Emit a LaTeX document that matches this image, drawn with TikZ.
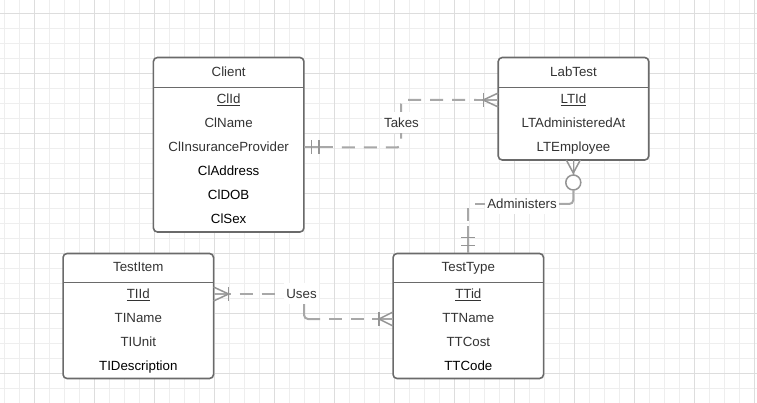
\documentclass[tikz,border=0pt]{standalone}
\usepackage{fontspec}
\setmainfont{Liberation Sans}
\definecolor{boxc}{HTML}{6A6A6A}
\definecolor{txtc}{HTML}{333333}
\definecolor{relc}{HTML}{A8A8A8}
\definecolor{markc}{HTML}{959595}
\definecolor{gridminor}{HTML}{EEEEEE}
\definecolor{gridmajor}{HTML}{DDDDDD}
\begin{document}
\begin{tikzpicture}[x=1pt,y=-1pt,
  entity/.style={draw=boxc, line width=1.6pt, rounded corners=4pt, fill=white, inner sep=0pt, outer sep=0pt, minimum width=150.5pt},
  hdr/.style={draw=boxc, line width=1.6pt},
  txt/.style={font=\fontsize{13.3}{16}\selectfont, text=txtc, inner sep=0pt, anchor=base},
  txtb/.style={txt, text=black},
  lbl/.style={font=\fontsize{13.3}{16}\selectfont, text=txtc, fill=white, inner xsep=2.5pt, inner ysep=5.5pt, text height=9.6pt, text depth=0pt},
  rel/.style={draw=relc, line width=2pt, dash pattern=on 13pt off 9pt, rounded corners=4pt},
  relsolid/.style={draw=relc, line width=2pt},
  mk/.style={draw=markc, line width=1.5pt},
  gminor/.style={draw=gridminor, line width=1pt},
  gmajor/.style={draw=gridmajor, line width=1pt}]
\useasboundingbox (0,0) rectangle (757,403);
% background grid
\begin{scope}
\clip (0,0) rectangle (757,403);
\fill[white] (0,0) rectangle (757,403);
\foreach \i in {0,...,50} \draw[gminor] ({4.3+15*\i},0) -- ++(0,403);
\foreach \j in {0,...,26} \draw[gminor] (0,{13.3+15*\j}) -- ++(757,0);
\foreach \i in {0,...,12} \draw[gmajor] ({34.3+60*\i},0) -- ++(0,403);
\foreach \j in {0,...,6} \draw[gmajor] (0,{13.3+60*\j}) -- ++(757,0);
\end{scope}

% entities
\node[entity, minimum height=174.5pt] (client) at (228.65,144.75) {};
\node[entity, minimum height=102.5pt] (labtest) at (573.5,108.75) {};
\node[entity, minimum height=125pt] (testitem) at (138.3,316) {};
\node[entity, minimum height=125pt] (testtype) at (468.3,316) {};

\draw[hdr] ([shift={(0,30)}]client.north west) -- ([shift={(0,30)}]client.north east);
\draw[hdr] ([shift={(0,30)}]labtest.north west) -- ([shift={(0,30)}]labtest.north east);
\draw[hdr] ([shift={(0,29)}]testitem.north west) -- ([shift={(0,29)}]testitem.north east);
\draw[hdr] ([shift={(0,29)}]testtype.north west) -- ([shift={(0,29)}]testtype.north east);

% Client texts
\node[txt] (cl-t) at (228.65,76.5) {Client};
\node[txt] (cl-1) at (228.65,103.3) {\underline{ClId}};
\node[txt] (cl-2) at (228.65,127.3) {ClName};
\node[txt] (cl-3) at (228.65,151.3) {ClInsuranceProvider};
\node[txtb] (cl-4) at (228.65,175.3) {ClAddress};
\node[txtb] (cl-5) at (228.65,199.3) {ClDOB};
\node[txtb] (cl-6) at (228.65,223.3) {ClSex};

% LabTest texts
\node[txt] (lt-t) at (573.5,76.5) {LabTest};
\node[txt] (lt-1) at (573.5,103.3) {\underline{LTId}};
\node[txt] (lt-2) at (573.5,127.3) {LTAdministeredAt};
\node[txt] (lt-3) at (573.5,151.3) {LTEmployee};

% TestItem texts
\node[txt] (ti-t) at (138.3,271.0) {TestItem};
\node[txt] (ti-1) at (138.3,298.3) {\underline{TIId}};
\node[txt] (ti-2) at (138.3,322.3) {TIName};
\node[txt] (ti-3) at (138.3,346.3) {TIUnit};
\node[txtb] (ti-4) at (138.3,370.3) {TIDescription};

% TestType texts
\node[txt] (tt-t) at (468.3,271.0) {TestType};
\node[txt] (tt-1) at (468.3,298.3) {\underline{TTid}};
\node[txt] (tt-2) at (468.3,322.3) {TTName};
\node[txt] (tt-3) at (468.3,346.3) {TTCost};
\node[txtb] (tt-4) at (468.3,370.3) {TTCode};

% ---- Takes: Client (one and only one) -- LabTest (one or many)
\coordinate (tA) at (client.east |- 0,147.5);
\coordinate (tB) at (labtest.west |- 0,100);
\draw[relsolid] (tA) -- ([shift={(29,0)}]tA);
\draw[rel, dash phase=13pt] ([shift={(29,0)}]tA) -| (401,100) -- ([shift={(-22,0)}]tB);
\draw[relsolid] ([shift={(-22,0)}]tB) -- (tB);
\draw[mk] ([shift={(7.7,-7)}]tA) -- ([shift={(7.7,7)}]tA);
\draw[mk] ([shift={(15.3,-7)}]tA) -- ([shift={(15.3,7)}]tA);
\draw[mk] ([shift={(-15,-7)}]tB) -- ([shift={(-15,7)}]tB);
\draw[mk] ([shift={(0,-7)}]tB) -- ([shift={(-15,0)}]tB) -- ([shift={(0,7)}]tB);
\node[lbl] (takes) at (401.5,122.5) {Takes};

% ---- Administers: LabTest (zero or many) -- TestType (one and only one)
\coordinate (aA) at (labtest.south -| 573.3,0);
\coordinate (aB) at (testtype.north -| 468.3,0);
\draw[mk] ([shift={(-7,0)}]aA) -- ([shift={(0,13)}]aA) -- ([shift={(7,0)}]aA);
\draw[mk] (aA) -- ([shift={(0,15)}]aA);
\node[circle, draw=markc, line width=1.5pt, fill=white, inner sep=0pt, minimum size=15pt] (aO) at ([shift={(0,22.5)}]aA) {};
\draw[relsolid, rounded corners=4pt] (aO.south) |- (550,204);
\draw[rel, dash phase=4pt] (550,204) -| ([shift={(0,-27)}]aB);
\draw[relsolid] ([shift={(0,-27)}]aB) -- (aB);
\draw[mk] ([shift={(-7,-16)}]aB) -- ([shift={(7,-16)}]aB);
\draw[mk] ([shift={(-7,-8)}]aB) -- ([shift={(7,-8)}]aB);
\node[lbl] (administers) at (522,204) {Administers};

% ---- Uses: TestItem (one or many) -- TestType (one or many)
\coordinate (uA) at (testitem.east |- 0,294);
\coordinate (uB) at (testtype.west |- 0,319);
\draw[relsolid] (uA) -- ([shift={(17,0)}]uA);
\draw[rel, dash phase=13pt] ([shift={(17,0)}]uA) -- (304,294);
\draw[relsolid, rounded corners=4pt] (304,298) |- (320,319);
\draw[rel, dash phase=13pt] (320,319) -- ([shift={(-21,0)}]uB);
\draw[relsolid] ([shift={(-21,0)}]uB) -- (uB);
\draw[mk] ([shift={(15,-7)}]uA) -- ([shift={(15,7)}]uA);
\draw[mk] ([shift={(0,-7)}]uA) -- ([shift={(15,0)}]uA) -- ([shift={(0,7)}]uA);
\draw[mk] ([shift={(-14,-7)}]uB) -- ([shift={(-14,7)}]uB);
\draw[mk] ([shift={(0,-7)}]uB) -- ([shift={(-14,0)}]uB) -- ([shift={(0,7)}]uB);
\node[lbl] (uses) at (301.5,293.5) {Uses};
\end{tikzpicture}
\end{document}
